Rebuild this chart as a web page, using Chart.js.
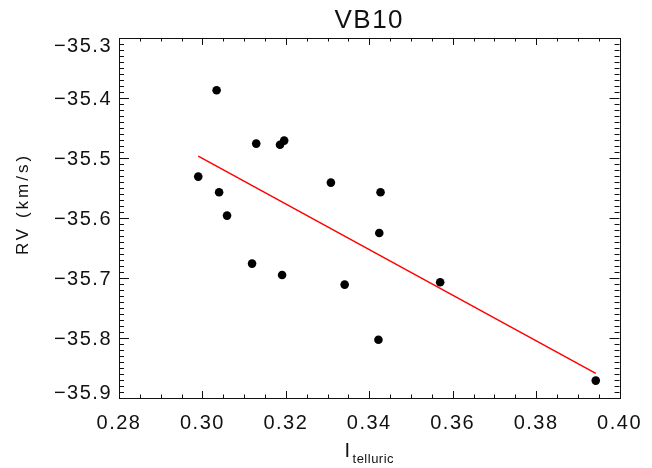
<!DOCTYPE html>
<html>
<head>
<meta charset="utf-8">
<script src="https://cdn.jsdelivr.net/npm/chart.js@4/dist/chart.umd.min.js"></script>
<style>
  html, body { margin: 0; padding: 0; background: #fff; }
  #rv { display: block; }
</style>
</head>
<body>
<canvas id="rv" width="652" height="468"></canvas>
<script>
// Données
const telluric = [0.3034, 0.3129, 0.3186, 0.3196, 0.2990, 0.3040, 0.3059, 0.3119,
                  0.3191, 0.3308, 0.3427, 0.3424, 0.3341, 0.3570, 0.3422, 0.3943];
const rvValues = [-35.387, -35.476, -35.478, -35.471, -35.531, -35.557, -35.596, -35.676,
                  -35.695, -35.541, -35.557, -35.625, -35.711, -35.707, -35.803, -35.871];

// Droite d'ajustement (extrémités)
const fitX = [0.2990, 0.3943];
const fitRV = [-35.497, -35.859];

// Graduations
const xTickValues = [0.28, 0.30, 0.32, 0.34, 0.36, 0.38, 0.40];
const yTickValues = [-35.9, -35.8, -35.7, -35.6, -35.5, -35.4, -35.3];
const xMinorPerMajor = 4;
const yMinorPerMajor = 10;

const FONT = "'Liberation Sans', Arial, sans-serif";
const INK = '#111';

// Cadre, graduations intérieures et textes façon IDL
const idlFrame = {
    id: 'idlFrame',
    beforeDraw(chart) {
        chart.ctx.letterSpacing = '1.5px';
    },
    afterDraw(chart) {
        const ctx = chart.ctx;
        const { left, right, top, bottom } = chart.chartArea;
        const xs = chart.scales.x;
        const ys = chart.scales.y;
        ctx.save();
        ctx.strokeStyle = INK;
        ctx.lineWidth = 1;

        // cadre
        ctx.strokeRect(Math.round(left) + 0.5, Math.round(top) + 0.5,
                       Math.round(right - left), Math.round(bottom - top));

        ctx.beginPath();
        // graduations x (haut et bas)
        for (let i = 0; i < xTickValues.length; i++) {
            const v = xTickValues[i];
            const px = Math.round(xs.getPixelForValue(v)) + 0.5;
            ctx.moveTo(px, bottom); ctx.lineTo(px, bottom - 7);
            ctx.moveTo(px, top); ctx.lineTo(px, top + 7);
            if (i < xTickValues.length - 1) {
                const step = (xTickValues[i + 1] - v) / xMinorPerMajor;
                for (let k = 1; k < xMinorPerMajor; k++) {
                    const mx = Math.round(xs.getPixelForValue(v + k * step)) + 0.5;
                    ctx.moveTo(mx, bottom); ctx.lineTo(mx, bottom - 3.5);
                    ctx.moveTo(mx, top); ctx.lineTo(mx, top + 3.5);
                }
            }
        }
        // graduations y (gauche et droite)
        for (let i = 0; i < yTickValues.length; i++) {
            const v = yTickValues[i];
            const py = Math.round(ys.getPixelForValue(v)) + 0.5;
            ctx.moveTo(left, py); ctx.lineTo(left + 10, py);
            ctx.moveTo(right, py); ctx.lineTo(right - 10, py);
            if (i < yTickValues.length - 1) {
                const step = (yTickValues[i + 1] - v) / yMinorPerMajor;
                for (let k = 1; k < yMinorPerMajor; k++) {
                    const my = Math.round(ys.getPixelForValue(v + k * step)) + 0.5;
                    ctx.moveTo(left, my); ctx.lineTo(left + 5, my);
                    ctx.moveTo(right, my); ctx.lineTo(right - 5, my);
                }
            }
        }
        ctx.stroke();

        ctx.fillStyle = INK;
        ctx.letterSpacing = '1.5px';

        // étiquettes y (gardées dans le cadre comme IDL)
        ctx.font = '20px ' + FONT;
        ctx.textAlign = 'right';
        ctx.textBaseline = 'middle';
        yTickValues.forEach(v => {
            let py = ys.getPixelForValue(v) + 1.5;
            py = Math.max(top + 8.5, Math.min(bottom - 5, py));
            ctx.fillText('\u2212' + Math.abs(v).toFixed(1), left - 7, py);
        });

        // titre principal
        ctx.textAlign = 'center';
        ctx.textBaseline = 'alphabetic';
        ctx.font = '26px ' + FONT;
        ctx.fillText('VB10', (left + right) / 2, 28);

        // titre axe x : I avec indice
        ctx.font = '20px ' + FONT;
        ctx.textAlign = 'left';
        const cx = (left + right) / 2;
        const wI = ctx.measureText('I').width;
        ctx.font = '13px ' + FONT;
        ctx.letterSpacing = '0.5px';
        const wSub = ctx.measureText('telluric').width;
        const x0 = cx - (wI + 1 + wSub) / 2;
        ctx.font = '20px ' + FONT;
        ctx.letterSpacing = '1.5px';
        ctx.fillText('I', x0, 457);
        ctx.font = '13px ' + FONT;
        ctx.letterSpacing = '0.5px';
        ctx.fillText('telluric', x0 + wI + 1, 463);

        // titre axe y
        ctx.save();
        ctx.translate(28, 204);
        ctx.rotate(-Math.PI / 2);
        ctx.font = '17px ' + FONT;
        ctx.letterSpacing = '3px';
        ctx.textAlign = 'center';
        ctx.fillText('RV (km/s)', 0, 0);
        ctx.restore();

        ctx.restore();
    }
};

const points = telluric.map((x, i) => ({ x: x, y: rvValues[i] }));
const fitPoints = fitX.map((x, i) => ({ x: x, y: fitRV[i] }));

new Chart(document.getElementById('rv'), {
    type: 'scatter',
    data: {
        datasets: [
            {
                label: 'RV',
                data: points,
                backgroundColor: '#000',
                borderWidth: 0,
                pointRadius: 4.3
            },
            {
                type: 'line',
                label: 'fit',
                data: fitPoints,
                borderColor: '#ff0000',
                borderWidth: 1.5,
                pointRadius: 0,
                fill: false
            }
        ]
    },
    options: {
        responsive: false,
        animation: false,
        layout: { padding: { top: 38, right: 25, left: 0, bottom: 0 } },
        plugins: {
            legend: { display: false },
            tooltip: { enabled: false },
            title: { display: false }
        },
        scales: {
            x: {
                type: 'linear',
                min: 0.28,
                max: 0.40,
                afterBuildTicks: scale => { scale.ticks = xTickValues.map(v => ({ value: v })); },
                afterFit: scale => { scale.height = 70; },
                grid: { display: false, drawTicks: false },
                border: { display: false },
                ticks: {
                    padding: 13,
                    color: INK,
                    font: { family: FONT, size: 20 },
                    maxRotation: 0,
                    autoSkip: false,
                    callback: v => Number(v).toFixed(2)
                }
            },
            y: {
                type: 'linear',
                min: -35.9,
                max: -35.3,
                afterFit: scale => { scale.width = 119; },
                grid: { display: false, drawTicks: false },
                border: { display: false },
                ticks: { display: false }
            }
        }
    },
    plugins: [idlFrame]
});
</script>
</body>
</html>
